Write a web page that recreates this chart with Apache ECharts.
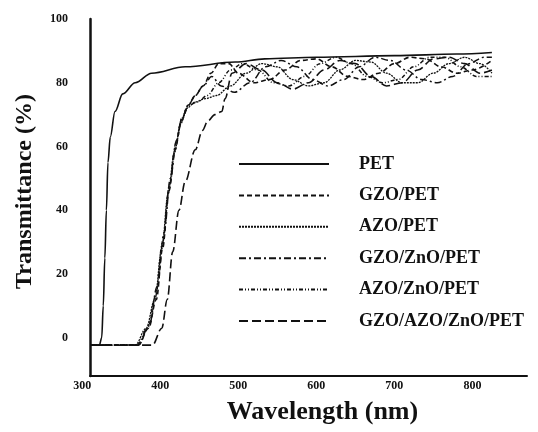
<!DOCTYPE html>
<html>
<head>
<meta charset="utf-8">
<script src="https://cdn.jsdelivr.net/npm/echarts@6/dist/echarts.min.js"></script>
<style>
  html, body { margin: 0; padding: 0; background: #fff; }
  #chart { width: 538px; height: 432px; }
</style>
</head>
<body>
<div id="chart"></div>
<script>
// legend names
const seriesNames = ['PET', 'GZO/PET', 'AZO/PET', 'GZO/ZnO/PET', 'AZO/ZnO/PET', 'GZO/AZO/ZnO/PET']

// tick labels
const xTickLabels = [300, 400, 500, 600, 700, 800]
const yTickLabels = [0, 20, 40, 60, 80, 100]

// PET
const petNm = [310, 322, 325, 327, 329, 331, 333, 336, 342, 352, 368, 389, 432, 496, 534, 600, 700, 780, 825]
const petT  = [-2.3, -2.3, 0, 10, 25, 40, 55, 63, 71, 76.5, 80, 83, 85, 86.5, 87.5, 88, 88.5, 89, 89.5]

// GZO/PET
const gzoNm = [310, 372, 385, 395, 403, 411, 419, 427, 436, 445, 455, 465, 475, 488, 500, 520, 540, 560, 580, 600, 620, 640, 660, 680, 700, 720, 740, 760, 780, 800, 825]
const gzoT  = [-2.3, -2.3, 3, 12, 28, 46, 59, 68, 73, 76, 79, 83, 86, 86, 83, 80, 81, 84, 87, 87.5, 85, 82, 81, 83, 86, 88, 87.5, 85, 83, 84, 87]

// AZO/PET
const azoNm = [310, 368, 382, 393, 402, 410, 418, 426, 434, 445, 458, 472, 490, 510, 530, 550, 570, 590, 610, 630, 650, 670, 690, 710, 730, 750, 770, 790, 810, 825]
const azoT  = [-2.3, -2.3, 3, 12, 28, 45, 58, 67, 72, 74, 75, 76, 79, 83, 86, 85, 81, 79, 80, 84, 87, 86.5, 83, 80, 80, 83, 86, 88, 86, 83]

// GZO/ZnO/PET
const gzoZnoNm = [310, 372, 386, 396, 405, 413, 421, 428, 436, 445, 455, 466, 478, 495, 515, 535, 555, 575, 595, 615, 635, 655, 675, 695, 715, 735, 755, 775, 795, 815, 825]
const gzoZnoT  = [-2.3, -2.3, 4, 16, 33, 50, 62, 69, 73, 76, 79, 82, 79, 77, 80, 85, 87, 85, 81, 79, 81, 85, 88, 87, 84, 81, 80, 82, 86, 88, 88]

// AZO/ZnO/PET
const azoZnoNm = [310, 370, 384, 394, 403, 412, 420, 428, 437, 448, 460, 475, 490, 505, 525, 545, 565, 585, 605, 625, 645, 665, 685, 705, 725, 745, 765, 785, 805, 825]
const azoZnoT  = [-2.3, -2.3, 3, 13, 30, 48, 61, 69, 73, 74, 76, 80, 84, 86, 84, 80, 79, 82, 86, 88, 86, 82, 80, 81, 85, 88, 88, 85, 82, 82]

// GZO/AZO/ZnO/PET
const tripleNm = [310, 390, 402, 409, 416, 424, 432, 445, 454, 461, 470, 479, 483, 492, 510, 530, 550, 570, 590, 610, 630, 650, 670, 690, 710, 730, 750, 770, 790, 810, 825]
const tripleT  = [-2.3, -2.3, 3, 12, 27, 40, 49, 59, 65, 68, 70, 71, 75, 83, 86, 84, 80, 78, 80, 84, 87, 86, 82, 79, 80, 84, 87.5, 88, 86, 83, 84]

const nmLists = [petNm, gzoNm, azoNm, gzoZnoNm, azoZnoNm, tripleNm]
const tLists = [petT, gzoT, azoT, gzoZnoT, azoZnoT, tripleT]

// line styles
const dashes = ['solid', [5, 3], [2, 1], [7, 3, 2, 3], [4, 2, 1, 2, 1, 2], [9, 4]]
const widths = [1.6, 1.6, 1.3, 1.5, 1.5, 1.6]

const font = "'Liberation Serif', 'DejaVu Serif', serif"

const myChart = echarts.init(document.getElementById('chart'))

let series = seriesNames.map((name, i) => {
    return {
        name: name,
        type: 'line',
        symbol: 'none',
        smooth: 0.35,
        smoothMonotone: 'x',
        data: nmLists[i].map((nm, j) => [nm, tLists[i][j]]),
        lineStyle: {
            color: '#111',
            width: widths[i],
            type: dashes[i]
        },
        itemStyle: { color: '#111' }
    }
})

let option = {
    animation: false,
    backgroundColor: '#fff',
    grid: {
        left: 90,
        right: 11,
        top: 19,
        bottom: 56
    },
    legend: {
        orient: 'vertical',
        left: 238,
        top: 154,
        padding: 0,
        itemWidth: 90,
        itemHeight: 14,
        itemGap: 11.4,
        data: seriesNames,
        itemStyle: { opacity: 0 },
        textStyle: {
            fontFamily: font,
            fontWeight: 'bold',
            fontSize: 18,
            lineHeight: 20,
            color: '#111',
            padding: [0, 0, 0, 25]
        }
    },
    xAxis: {
        type: 'value',
        min: 310,
        max: 870,
        interval: 10,
        name: 'Wavelength (nm)',
        nameLocation: 'middle',
        nameGap: 23,
        nameTextStyle: {
            fontFamily: font,
            fontWeight: 'bold',
            fontSize: 26,
            color: '#111',
            padding: [0, 0, 0, 28]
        },
        axisLine: { onZero: false, lineStyle: { color: '#111', width: 2 } },
        axisTick: { show: false },
        splitLine: { show: false },
        axisLabel: {
            margin: 4,
            fontFamily: font,
            fontWeight: 'bold',
            fontSize: 12,
            color: '#111',
            showMaxLabel: false,
            formatter: (v) => xTickLabels.includes(v) ? String(v) : ''
        }
    },
    yAxis: {
        type: 'value',
        min: -12,
        max: 100,
        interval: 4,
        name: 'Transmittance (%)',
        nameLocation: 'middle',
        nameRotate: 90,
        nameGap: 53,
        nameTextStyle: {
            fontFamily: font,
            fontWeight: 'bold',
            fontSize: 24,
            color: '#111',
            padding: [0, 0, 0, 12]
        },
        axisLine: { onZero: false, lineStyle: { color: '#111', width: 2.5 } },
        axisTick: { show: false },
        splitLine: { show: false },
        axisLabel: {
            margin: 22,
            fontFamily: font,
            fontWeight: 'bold',
            fontSize: 12,
            color: '#111',
            formatter: (v) => yTickLabels.includes(v) ? String(v) : ''
        }
    },
    series: series
}

myChart.setOption(option)

// first wavelength label sits left of the axis start
let p = myChart.convertToPixel({ xAxisIndex: 0 }, xTickLabels[0])
let y0 = myChart.convertToPixel({ yAxisIndex: 0 }, -12)
myChart.setOption({
    graphic: [{
        type: 'text',
        x: p,
        y: y0 + 4,
        style: {
            text: String(xTickLabels[0]),
            fontFamily: font,
            fontWeight: 'bold',
            fontSize: 12,
            fill: '#111',
            align: 'center',
            verticalAlign: 'top'
        }
    }]
})
</script>
</body>
</html>
